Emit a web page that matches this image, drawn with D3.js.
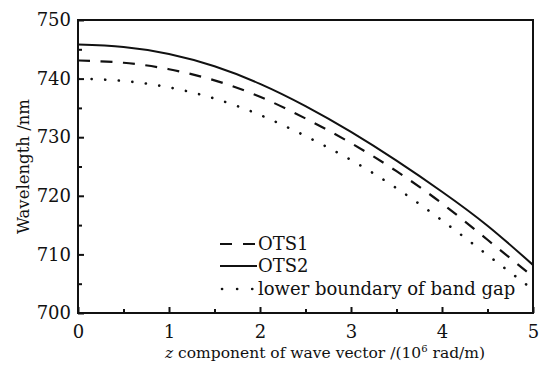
<!DOCTYPE html>
<html>
<head>
<meta charset="utf-8">
<script src="https://cdn.jsdelivr.net/npm/d3@7"></script>
<style>
  html, body { margin: 0; padding: 0; background: #fff; }
  svg { display: block; }
  text { font-family: "DejaVu Serif", "Liberation Serif", serif; fill: #111; }
</style>
</head>
<body>
<svg id="chart" width="539" height="366"></svg>
<script>
// z component of the wave vector (10^6 rad/m)
const kz = [0, 0.5, 1, 1.5, 2, 2.5, 3, 3.5, 4, 4.5, 5];
// wavelength (nm) for each curve
const ots1 = [743.1, 742.7, 741.6, 739.7, 736.9, 733.2, 729.0, 724.2, 718.7, 712.5, 706.2];
const ots2 = [745.8, 745.4, 744.2, 742.1, 739.1, 735.3, 730.9, 726.0, 720.7, 714.9, 708.2];
const lowerGap = [740.0, 739.6, 738.5, 736.6, 733.8, 730.2, 726.1, 721.3, 715.8, 709.9, 704.0];

const xTicks = [0, 1, 2, 3, 4, 5];
const yTicks = [700, 710, 720, 730, 740, 750];

const seriesNames = ["OTS1", "OTS2", "lower boundary of band gap"];

const svg = d3.select("#chart");
const W = 539, H = 366;
const m = { left: 78, right: 6, top: 20, bottom: 53 };

const x = d3.scaleLinear().domain([0, 5]).range([m.left, W - m.right]);
const y = d3.scaleLinear().domain([700, 750]).range([H - m.bottom, m.top]);

const styles = [
  { dash: "12,10.5", legendDash: "12,11", width: 2.2, cap: "butt" },
  { dash: null, legendDash: null, width: 2, cap: "butt" },
  { dash: "0.1,13.5", legendDash: "0.1,15", width: 2.6, cap: "round" }
];
const data = [ots1, ots2, lowerGap];

const line = d3.line()
  .x((d, i) => x(kz[i]))
  .y(d => y(d))
  .curve(d3.curveNatural);

const plot = svg.append("g");
plot.append("clipPath").attr("id", "clip")
  .append("rect")
  .attr("x", m.left).attr("y", m.top)
  .attr("width", x(5) - m.left).attr("height", y(700) - m.top);

data.forEach((vals, k) => {
  const s = styles[k];
  plot.append("path")
    .datum(vals)
    .attr("clip-path", "url(#clip)")
    .attr("fill", "none")
    .attr("stroke", "#111")
    .attr("stroke-width", s.width)
    .attr("stroke-linecap", s.cap)
    .attr("stroke-dasharray", s.dash)
    .attr("d", line);
});

// Axes with inward ticks: majors labelled, minors between
const xAxis = d3.axisBottom(x).tickValues(xTicks).tickSize(-6).tickPadding(12).tickFormat(d3.format("d"));
const xMinor = d3.axisBottom(x).tickValues(d3.range(0.5, 5, 1)).tickSize(-4).tickFormat("");
const yAxis = d3.axisLeft(y).tickValues(yTicks).tickSize(-6).tickPadding(7).tickFormat(d3.format("d"));
const yMinor = d3.axisLeft(y).tickValues(d3.range(705, 750, 10)).tickSize(-4).tickFormat("");

function styleAxis(g) {
  g.select(".domain").remove();
  g.selectAll(".tick line").attr("stroke", "#111").attr("stroke-width", 2);
  g.selectAll(".tick text").attr("font-size", 18).attr("fill", "#111")
    .style("font-family", "\"DejaVu Serif\", serif");
}

svg.append("g").attr("transform", `translate(0,${y(700)})`).call(xAxis).call(styleAxis);
svg.append("g").attr("transform", `translate(0,${y(700)})`).call(xMinor).call(styleAxis);
svg.append("g").attr("transform", `translate(${m.left},0)`).call(yAxis).call(styleAxis);
svg.append("g").attr("transform", `translate(${m.left},0)`).call(yMinor).call(styleAxis);

// Frame
svg.append("rect")
  .attr("x", m.left).attr("y", m.top)
  .attr("width", x(5) - m.left).attr("height", y(700) - m.top)
  .attr("fill", "none").attr("stroke", "#111").attr("stroke-width", 2);

// Axis titles
const xt = svg.append("text")
  .attr("x", 325).attr("y", 358)
  .attr("text-anchor", "middle").attr("font-size", 15.5);
xt.append("tspan").attr("font-style", "italic").text("z");
xt.append("tspan").text(" component of wave vector /(10");
xt.append("tspan").attr("font-size", 10).attr("dy", -6).text("6");
xt.append("tspan").attr("dy", 6).text(" rad/m)");

svg.append("text")
  .attr("transform", `translate(29,${(y(700) + y(750)) / 2}) rotate(-90)`)
  .attr("text-anchor", "middle").attr("font-size", 16.5)
  .text("Wavelength /nm");

// Legend
const legend = svg.append("g");
const legY = [244, 266, 289];
seriesNames.forEach((name, k) => {
  const s = styles[k];
  legend.append("line")
    .attr("x1", 220).attr("x2", 257)
    .attr("y1", legY[k]).attr("y2", legY[k])
    .attr("stroke", "#111")
    .attr("stroke-width", s.width)
    .attr("stroke-linecap", s.cap)
    .attr("stroke-dasharray", s.legendDash)
    .attr("transform", k === 2 ? "translate(2,0)" : null);
  legend.append("text")
    .attr("x", 258).attr("y", legY[k] + 6)
    .attr("font-size", 18)
    .text(name);
});
</script>
</body>
</html>
